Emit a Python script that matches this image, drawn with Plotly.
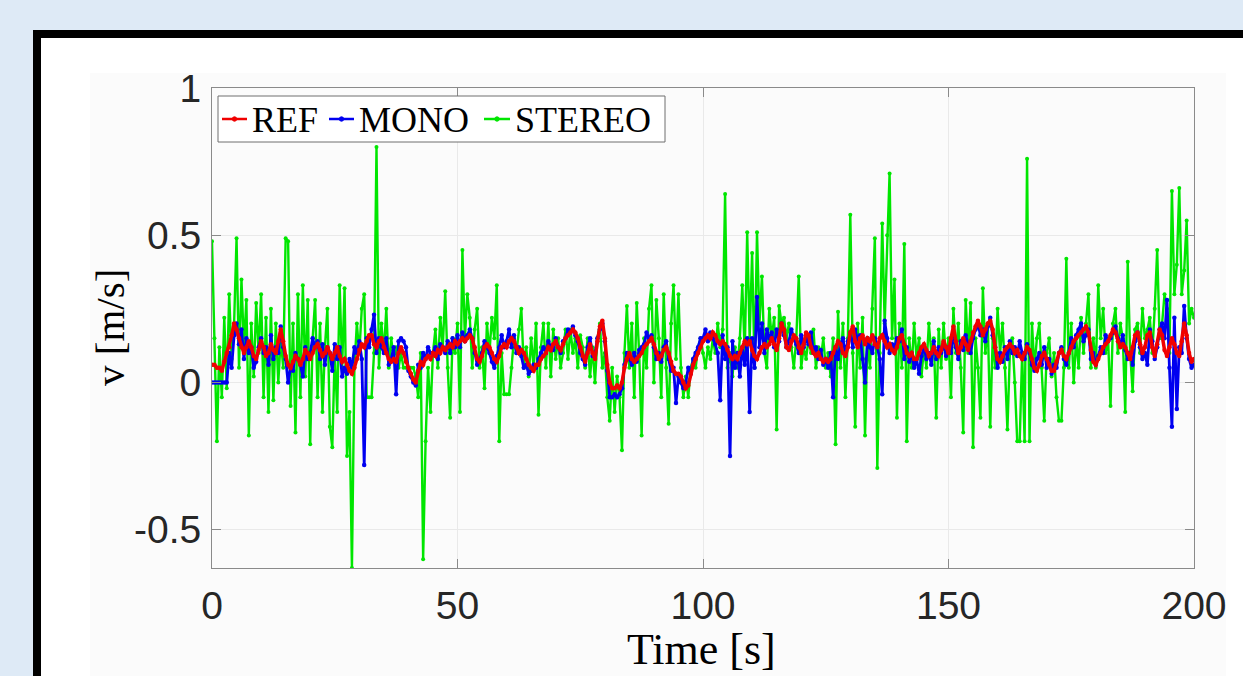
import numpy as np
import plotly.graph_objects as go

DT = 0.5  # sample period [s]

stereo = [
    0.48, 0.15, -0.20, 0.12, -0.05, 0.22, -0.02, 0.30, 0.08, 0.20,
    0.49, 0.05, 0.35, 0.12, 0.28, -0.18, 0.20, 0.02, 0.27, 0.10,
    0.30, -0.05, 0.22, -0.10, 0.25, -0.06, 0.20, 0.00, 0.15, 0.05,
    0.49, 0.48, -0.08, 0.20, -0.17, 0.30, -0.05, 0.33, 0.02, 0.28,
    -0.21, 0.15, 0.28, -0.05, 0.20, -0.10, 0.12, 0.25, -0.15, -0.22,
    0.10, -0.10, 0.33, 0.05, 0.32, -0.25, -0.10, -0.63, 0.05, 0.20,
    0.10, 0.25, 0.30, -0.05, -0.05, -0.05, 0.10, 0.80, 0.05, 0.20,
    0.10, 0.25, 0.05, 0.15, 0.08, 0.12, 0.05, 0.10, 0.05, 0.05,
    0.05, 0.05, 0.05, 0.02, -0.05, 0.10, -0.60, -0.20, 0.05, -0.10,
    0.10, 0.18, 0.05, 0.22, 0.12, 0.31, 0.05, -0.12, 0.15, 0.10,
    0.20, -0.10, 0.45, 0.15, 0.30, 0.22, 0.05, 0.18, 0.25, 0.05,
    0.12, -0.02, 0.20, 0.10, 0.22, 0.15, 0.33, -0.20, 0.10, -0.04,
    -0.04, -0.04, 0.05, 0.15, 0.10, 0.18, 0.25, 0.05, 0.12, 0.02,
    0.15, 0.05, 0.20, -0.11, 0.12, 0.20, 0.05, 0.20, 0.02, 0.18,
    0.08, 0.15, 0.05, 0.10, 0.18, 0.08, 0.18, 0.10, 0.15, 0.05,
    0.16, 0.12, 0.05, 0.15, 0.02, 0.12, 0.00, 0.15, 0.20, 0.05,
    0.10, -0.05, -0.13, 0.05, -0.10, 0.02, -0.05, -0.23, 0.10, 0.26,
    0.05, 0.20, -0.05, 0.27, 0.10, -0.18, 0.15, 0.05, 0.25, 0.33,
    0.00, 0.28, 0.15, -0.05, 0.30, 0.05, -0.14, 0.20, 0.33, 0.08,
    0.30, 0.05, -0.05, 0.02, -0.05, 0.05, 0.08, 0.05, 0.12, 0.15,
    0.10, 0.05, 0.12, 0.08, 0.15, 0.10, 0.20, 0.12, 0.18, 0.64,
    0.05, 0.10, 0.02, 0.12, 0.05, 0.15, 0.33, 0.10, 0.51, 0.15,
    0.44, 0.05, 0.51, 0.20, 0.36, 0.10, 0.05, 0.25, 0.15, 0.22,
    -0.16, 0.26, 0.20, 0.22, 0.15, 0.20, 0.12, 0.05, 0.15, 0.36,
    0.05, 0.12, 0.08, 0.15, 0.10, 0.18, 0.05, 0.12, 0.08, 0.15,
    0.05, 0.10, 0.02, 0.15, -0.21, 0.24, 0.05, 0.20, -0.05, 0.15,
    0.57, 0.10, -0.15, 0.20, 0.05, 0.22, -0.18, 0.15, 0.05, 0.25,
    0.49, -0.29, 0.10, 0.54, 0.20, 0.50, 0.71, 0.15, 0.35, -0.12,
    0.20, 0.05, 0.47, -0.20, 0.15, 0.05, 0.20, 0.08, 0.15, 0.02,
    0.12, 0.05, 0.20, 0.10, 0.15, -0.12, 0.18, 0.05, 0.20, 0.08,
    0.15, -0.05, 0.25, 0.10, 0.20, 0.05, -0.17, 0.28, 0.10, 0.27,
    -0.22, 0.15, 0.05, -0.12, 0.32, 0.10, 0.20, -0.15, 0.15, 0.05,
    0.25, 0.10, 0.20, 0.05, -0.16, 0.10, 0.15, 0.00, -0.20, -0.20,
    0.10, -0.20, 0.76, -0.20, 0.20, 0.05, 0.15, 0.20, 0.05, -0.13,
    0.10, 0.15, 0.02, 0.10, -0.05, -0.13, -0.13, 0.05, 0.42, 0.05,
    0.20, 0.00, 0.15, 0.05, 0.22, 0.10, 0.20, 0.30, 0.05, 0.15,
    0.05, 0.33, 0.15, 0.25, 0.10, 0.15, -0.08, 0.20, 0.25, 0.10,
    0.20, 0.15, -0.10, 0.41, 0.10, -0.03, 0.18, 0.20, 0.10, 0.25,
    0.15, 0.18, 0.22, 0.10, 0.25, 0.45, 0.15, 0.20, 0.30, 0.25,
    0.10, 0.65, 0.30, 0.40, 0.66, 0.30, 0.38, 0.55, 0.20, 0.25,
    0.22,
]

mono = [
    0.00, 0.00, 0.00, 0.00, 0.00, 0.00, 0.00, 0.10, 0.05, 0.16,
    0.20, 0.13, 0.18, 0.08, 0.15, 0.10, 0.12, 0.05, 0.07, 0.12,
    0.15, 0.10, 0.12, 0.06, 0.16, 0.08, 0.12, 0.10, 0.19, 0.12,
    0.08, 0.00, 0.05, 0.04, 0.10, 0.08, 0.06, 0.02, 0.12, 0.08,
    0.10, 0.15, 0.12, 0.14, 0.08, 0.13, 0.06, 0.12, 0.10, 0.04,
    0.13, 0.08, 0.12, 0.02, 0.05, 0.03, 0.08, 0.05, 0.12, 0.10,
    0.14, 0.08, -0.28, 0.15, 0.12, 0.18, 0.23, 0.10, 0.15, 0.12,
    0.10, 0.15, 0.06, 0.08, 0.12, -0.04, 0.14, 0.15, 0.14, 0.12,
    0.04, 0.02, 0.00, -0.01, 0.06, 0.05, 0.10, 0.08, 0.12, 0.10,
    0.10, 0.12, 0.08, 0.13, 0.12, 0.10, 0.14, 0.10, 0.15, 0.12,
    0.16, 0.12, 0.17, 0.14, 0.16, 0.18, 0.15, 0.10, 0.06, 0.08,
    0.10, 0.14, 0.12, 0.10, 0.07, 0.05, 0.09, 0.12, 0.16, 0.12,
    0.14, 0.18, 0.12, 0.16, 0.10, 0.12, 0.09, 0.05, 0.06, 0.03,
    0.04, 0.06, 0.05, 0.08, 0.10, 0.12, 0.10, 0.14, 0.12, 0.11,
    0.15, 0.12, 0.10, 0.14, 0.15, 0.18, 0.17, 0.19, 0.16, 0.14,
    0.10, 0.08, 0.06, 0.12, 0.15, 0.09, 0.10, 0.15, 0.18, 0.20,
    0.14, 0.04, -0.05, -0.05, -0.04, -0.05, -0.04, -0.02, 0.06, 0.10,
    0.08, 0.06, 0.10, 0.07, 0.11, 0.12, 0.13, 0.17, 0.15, 0.16,
    0.12, 0.08, 0.10, 0.07, 0.12, 0.14, 0.08, 0.04, 0.05, -0.07,
    0.02, 0.00, -0.02, 0.00, 0.05, 0.03, 0.08, 0.10, 0.12, 0.15,
    0.15, 0.18, 0.14, 0.17, 0.15, 0.13, 0.10, -0.06, 0.16, 0.08,
    0.12, -0.25, 0.14, 0.05, 0.10, 0.02, 0.12, 0.06, 0.15, -0.10,
    0.15, 0.05, 0.29, 0.12, 0.20, 0.10, 0.18, 0.15, 0.17, 0.12,
    0.18, 0.14, 0.20, 0.16, 0.12, 0.14, 0.18, 0.15, 0.13, 0.10,
    0.16, 0.12, 0.15, 0.13, 0.17, 0.10, 0.12, 0.08, 0.11, 0.06,
    0.08, 0.05, 0.10, -0.05, 0.12, 0.08, 0.13, 0.15, 0.10, 0.14,
    0.17, 0.12, 0.18, 0.14, 0.16, 0.08, 0.00, 0.15, 0.12, 0.10,
    0.15, 0.12, 0.08, -0.04, 0.21, 0.15, 0.10, 0.13, 0.12, 0.15,
    0.14, 0.18, 0.08, 0.12, 0.07, 0.10, 0.05, 0.08, 0.03, 0.09,
    0.12, 0.08, 0.10, 0.06, 0.14, 0.08, 0.12, 0.10, 0.13, 0.09,
    0.12, 0.10, 0.16, 0.12, 0.08, 0.14, 0.11, 0.16, 0.13, 0.10,
    0.15, 0.18, 0.20, 0.16, 0.18, 0.14, 0.19, 0.22, 0.16, 0.12,
    0.05, 0.10, 0.07, 0.12, 0.08, 0.14, 0.10, 0.12, 0.09, 0.14,
    0.10, 0.08, 0.13, 0.10, 0.06, 0.04, 0.08, 0.10, 0.06, 0.12,
    0.05, 0.08, 0.03, 0.06, 0.05, 0.10, 0.12, 0.08, 0.06, 0.10,
    0.15, 0.12, 0.16, 0.18, 0.20, 0.14, 0.16, 0.18, 0.08, 0.10,
    0.06, 0.09, 0.12, 0.10, 0.16, 0.14, 0.15, 0.17, 0.19, 0.15,
    0.13, 0.16, 0.11, 0.08, 0.10, 0.06, 0.14, 0.17, 0.12, 0.08,
    0.10, 0.06, 0.18, 0.14, 0.08, 0.12, 0.18, 0.20, 0.15, 0.28,
    0.05, -0.15, 0.22, -0.09, 0.12, 0.10, 0.26, 0.15, 0.08, 0.05,
    0.06,
]

ref = [
    0.06, 0.06, 0.05, 0.05, 0.04, 0.07, 0.10, 0.12, 0.16, 0.20,
    0.18, 0.15, 0.12, 0.10, 0.12, 0.14, 0.12, 0.09, 0.08, 0.11,
    0.14, 0.12, 0.09, 0.10, 0.13, 0.11, 0.10, 0.14, 0.18, 0.14,
    0.09, 0.06, 0.05, 0.07, 0.09, 0.08, 0.06, 0.08, 0.11, 0.10,
    0.08, 0.10, 0.12, 0.13, 0.11, 0.09, 0.10, 0.12, 0.10, 0.08,
    0.10, 0.12, 0.09, 0.07, 0.08, 0.06, 0.04, 0.03, 0.05, 0.08,
    0.11, 0.13, 0.12, 0.14, 0.16, 0.16, 0.13, 0.12, 0.14, 0.15,
    0.12, 0.10, 0.08, 0.07, 0.08, 0.07, 0.10, 0.12, 0.10, 0.07,
    0.05, 0.03, 0.01, 0.00, 0.04, 0.07, 0.06, 0.08, 0.09, 0.08,
    0.10, 0.09, 0.11, 0.10, 0.12, 0.11, 0.12, 0.13, 0.12, 0.14,
    0.13, 0.14, 0.15, 0.14, 0.15, 0.16, 0.15, 0.12, 0.08, 0.07,
    0.09, 0.12, 0.13, 0.12, 0.10, 0.08, 0.07, 0.09, 0.12, 0.13,
    0.12, 0.14, 0.15, 0.14, 0.12, 0.10, 0.11, 0.10, 0.08, 0.06,
    0.05, 0.04, 0.06, 0.06, 0.08, 0.09, 0.10, 0.12, 0.11, 0.13,
    0.14, 0.12, 0.11, 0.13, 0.15, 0.16, 0.17, 0.18, 0.17, 0.15,
    0.12, 0.09, 0.07, 0.10, 0.13, 0.10, 0.08, 0.14, 0.19, 0.21,
    0.15, 0.06, 0.00, -0.02, -0.02, -0.01, -0.02, 0.00, 0.05, 0.08,
    0.10, 0.08, 0.07, 0.08, 0.09, 0.10, 0.12, 0.13, 0.14, 0.15,
    0.13, 0.10, 0.08, 0.09, 0.11, 0.12, 0.10, 0.07, 0.04, 0.03,
    0.03, 0.02, 0.00, -0.02, -0.01, 0.03, 0.06, 0.08, 0.10, 0.12,
    0.14, 0.15, 0.16, 0.15, 0.17, 0.16, 0.14, 0.13, 0.14, 0.13,
    0.11, 0.09, 0.08, 0.09, 0.08, 0.10, 0.12, 0.14, 0.13, 0.14,
    0.11, 0.09, 0.08, 0.10, 0.12, 0.13, 0.12, 0.13, 0.15, 0.13,
    0.11, 0.15, 0.20, 0.18, 0.12, 0.11, 0.14, 0.16, 0.15, 0.12,
    0.10, 0.13, 0.17, 0.16, 0.12, 0.10, 0.09, 0.10, 0.08, 0.07,
    0.08, 0.07, 0.08, 0.10, 0.12, 0.14, 0.13, 0.10, 0.09, 0.12,
    0.17, 0.19, 0.14, 0.12, 0.15, 0.16, 0.13, 0.15, 0.14, 0.16,
    0.13, 0.12, 0.15, 0.16, 0.14, 0.12, 0.13, 0.11, 0.10, 0.12,
    0.15, 0.16, 0.13, 0.10, 0.09, 0.10, 0.08, 0.08, 0.10, 0.12,
    0.13, 0.11, 0.09, 0.10, 0.12, 0.10, 0.09, 0.11, 0.14, 0.12,
    0.10, 0.15, 0.19, 0.14, 0.10, 0.12, 0.15, 0.13, 0.11, 0.14,
    0.17, 0.19, 0.21, 0.19, 0.16, 0.18, 0.20, 0.21, 0.18, 0.12,
    0.08, 0.07, 0.09, 0.11, 0.12, 0.13, 0.12, 0.10, 0.11, 0.09,
    0.08, 0.10, 0.12, 0.11, 0.08, 0.05, 0.04, 0.06, 0.09, 0.10,
    0.08, 0.06, 0.04, 0.04, 0.07, 0.10, 0.11, 0.09, 0.08, 0.10,
    0.12, 0.14, 0.15, 0.16, 0.17, 0.18, 0.19, 0.17, 0.11, 0.07,
    0.06, 0.08, 0.10, 0.12, 0.13, 0.14, 0.16, 0.18, 0.17, 0.14,
    0.12, 0.13, 0.12, 0.10, 0.08, 0.12, 0.16, 0.17, 0.13, 0.10,
    0.12, 0.16, 0.17, 0.12, 0.09, 0.13, 0.18, 0.16, 0.11, 0.09,
    0.12, 0.15, 0.13, 0.10, 0.09, 0.14, 0.20, 0.16, 0.10, 0.07,
    0.08,
]

series_names = ["REF", "MONO", "STEREO"]
series_colors = ["rgb(240,0,0)", "rgb(0,0,240)", "rgb(0,230,0)"]
x_ticks = [0, 50, 100, 150, 200]
y_ticks = [-0.5, 0, 0.5, 1]
y_tick_labels = ["-0.5", "0", "0.5", "1"]

t_stereo = np.arange(len(stereo)) * DT
t_mono = np.arange(len(mono)) * DT
t_ref = np.arange(len(ref)) * DT

W, H = 1243, 676
L, R, T, B = 212, 1194, 88, 568  # plot area in pixels


def px(xp):
    return (xp - L) / (R - L)


def py(yp):
    return 1 - (yp - T) / (B - T)


fig = go.Figure()
fig.add_trace(go.Scatter(
    x=t_stereo, y=stereo, name="STEREO", mode="lines+markers",
    line=dict(color=series_colors[2], width=2.4),
    marker=dict(color=series_colors[2], size=4),
))
fig.add_trace(go.Scatter(
    x=t_mono, y=mono, name="MONO", mode="lines+markers",
    line=dict(color=series_colors[1], width=2.8),
    marker=dict(color=series_colors[1], size=4.5),
))
fig.add_trace(go.Scatter(
    x=t_ref, y=ref, name="REF", mode="lines+markers",
    line=dict(color=series_colors[0], width=3.5),
    marker=dict(color=series_colors[0], size=4.5),
))

shapes = [
    # dark frame around the figure (extends beyond the window)
    dict(type="rect", xref="paper", yref="paper", layer="below",
         x0=px(37), x1=px(W + 40), y0=py(H + 40), y1=py(34),
         line=dict(color="black", width=8), fillcolor="white"),
    dict(type="rect", xref="paper", yref="paper", layer="below",
         x0=px(90), x1=px(1226), y0=py(H + 40), y1=py(73),
         line=dict(width=0), fillcolor="#fbfbfb"),
    # legend box
    dict(type="rect", xref="paper", yref="paper", layer="above",
         x0=px(218), x1=px(665), y0=py(142), y1=py(96),
         line=dict(color="#6e6e6e", width=1), fillcolor="white"),
]

annotations = [
    dict(text="Time [s]", xref="paper", yref="paper",
         x=px(701), y=py(676), xanchor="center", yanchor="bottom",
         showarrow=False, font=dict(family="Liberation Serif", size=44, color="black")),
    dict(text="v [m/s]", xref="paper", yref="paper",
         x=px(110), y=py(328), xanchor="center", yanchor="middle", textangle=-90,
         showarrow=False, font=dict(family="Liberation Serif", size=41, color="black")),
]

# legend entries: line sample with a dot, then the name
legend_line_x = [(222, 247), (329, 354), (484, 510)]
legend_text_x = [250, 357, 513]
LEG_Y = 119
for name, col, (lx0, lx1), tx in zip(series_names, series_colors, legend_line_x, legend_text_x):
    shapes.append(dict(type="line", xref="paper", yref="paper", layer="above",
                       x0=px(lx0), x1=px(lx1), y0=py(LEG_Y), y1=py(LEG_Y),
                       line=dict(color=col, width=2.5)))
    cx = (lx0 + lx1) / 2
    shapes.append(dict(type="circle", xref="paper", yref="paper", layer="above",
                       x0=px(cx - 2.2), x1=px(cx + 2.2), y0=py(LEG_Y + 2.2), y1=py(LEG_Y - 2.2),
                       line=dict(color=col, width=1), fillcolor=col))
    annotations.append(dict(text=name, xref="paper", yref="paper",
                            x=px(tx), y=py(LEG_Y + 1), xanchor="left", yanchor="middle",
                            showarrow=False,
                            font=dict(family="Liberation Serif", size=36, color="black")))

axis_common = dict(
    showline=True, linecolor="#8a8a8a", linewidth=1, mirror="ticks",
    ticks="inside", ticklen=9, tickcolor="#8a8a8a", tickwidth=1,
    showgrid=True, gridcolor="#e9e9e9", gridwidth=1, zeroline=False,
    tickfont=dict(family="Liberation Sans", size=39, color="#262626"),
)

fig.update_layout(
    width=W, height=H,
    margin=dict(l=L, r=W - R, t=T, b=H - B, pad=0),
    paper_bgcolor="#deeaf6", plot_bgcolor="white",
    showlegend=False,
    xaxis=dict(range=[0, 200], tickvals=x_ticks, ticklabelstandoff=3, **axis_common),
    yaxis=dict(range=[-0.63, 1.0], tickvals=y_ticks, ticktext=y_tick_labels,
               ticklabelstandoff=2, **axis_common),
    shapes=shapes, annotations=annotations,
)

fig.write_html(
    "out.html",
    config={"displayModeBar": False},
    post_script="document.body.style.margin='0';document.body.style.background='#deeaf6';",
)
